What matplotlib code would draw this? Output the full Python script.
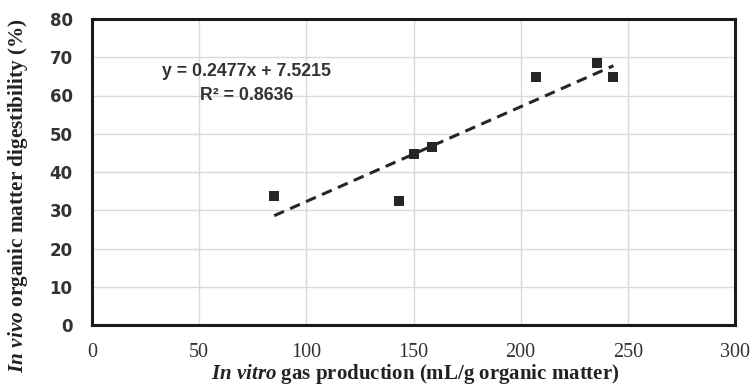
import matplotlib
matplotlib.use("Agg")
import matplotlib.pyplot as plt
import numpy as np

gas = [85.0, 143.1, 150.1, 158.7, 207.0, 235.8, 243.3]
omd = [33.8, 32.3, 44.7, 46.6, 64.8, 68.4, 64.8]
slope, intercept, r2 = 0.2477, 7.5215, 0.8636
xticks = [0, 50, 100, 150, 200, 250, 300]
yticks = [0, 10, 20, 30, 40, 50, 60, 70, 80]

plt.rcParams['mathtext.fontset'] = 'custom'
plt.rcParams['mathtext.it'] = 'Liberation Serif:bold:italic'
plt.rcParams['mathtext.rm'] = 'Liberation Serif:bold'

W, H = 753, 388
fig = plt.figure(figsize=(W / 100, H / 100), dpi=100)
ax = fig.add_axes([92 / W, 1 - 325 / H, (735 - 92) / W, (325 - 19) / H])

ax.set_xlim(0, 300)
ax.set_ylim(0, 80)
ax.set_xticks(xticks)
ax.set_yticks(yticks)
ax.grid(True, color='#d9d9d9', linewidth=1.0)
ax.set_axisbelow(True)

ax.scatter(gas, omd, marker='s', s=55, color='#262626', zorder=3, linewidths=0)
xs = np.array([min(gas), max(gas)])
ax.plot(xs, slope * xs + intercept, linestyle=(0, (3.5, 2.2)), color='#262626', linewidth=2.2, zorder=2)

for s in ax.spines.values():
    s.set_linewidth(2.2)
    s.set_color('#1a1a1a')

ax.tick_params(length=0)
ax.tick_params(axis='y', pad=14)
ax.tick_params(axis='x', pad=13)
for lab in ax.get_yticklabels():
    lab.set_fontfamily('DejaVu Sans')
    lab.set_fontweight('bold')
    lab.set_fontsize(12)
    lab.set_color('#333333')
for lab in ax.get_xticklabels():
    lab.set_fontfamily('Liberation Serif')
    lab.set_fontsize(14.5)
    lab.set_color('#333333')

ax.text(72, 66.4, f"y = {slope}x + {intercept}", ha='center', va='center',
        fontsize=12.8, fontweight='bold', family='Liberation Sans', color='#333333')
ax.text(72, 59.9, f"R² = {r2}", ha='center', va='center',
        fontsize=12.8, fontweight='bold', family='Liberation Sans', color='#333333')

fig.text(415 / W, 1 - 374 / H,
         r"$\mathit{In\ vitro}$ gas production (mL/g organic matter)",
         fontfamily='Liberation Serif', fontweight='bold', fontsize=15,
         color='#222222', ha='center', va='center')
fig.text(18 / W, 1 - 196 / H,
         r"$\mathit{In\ vivo}$ organic matter digestibility (%)",
         fontfamily='Liberation Serif', fontweight='bold', fontsize=15.3,
         color='#222222', ha='center', va='center', rotation=90)

fig.savefig("out.png", dpi=100)
